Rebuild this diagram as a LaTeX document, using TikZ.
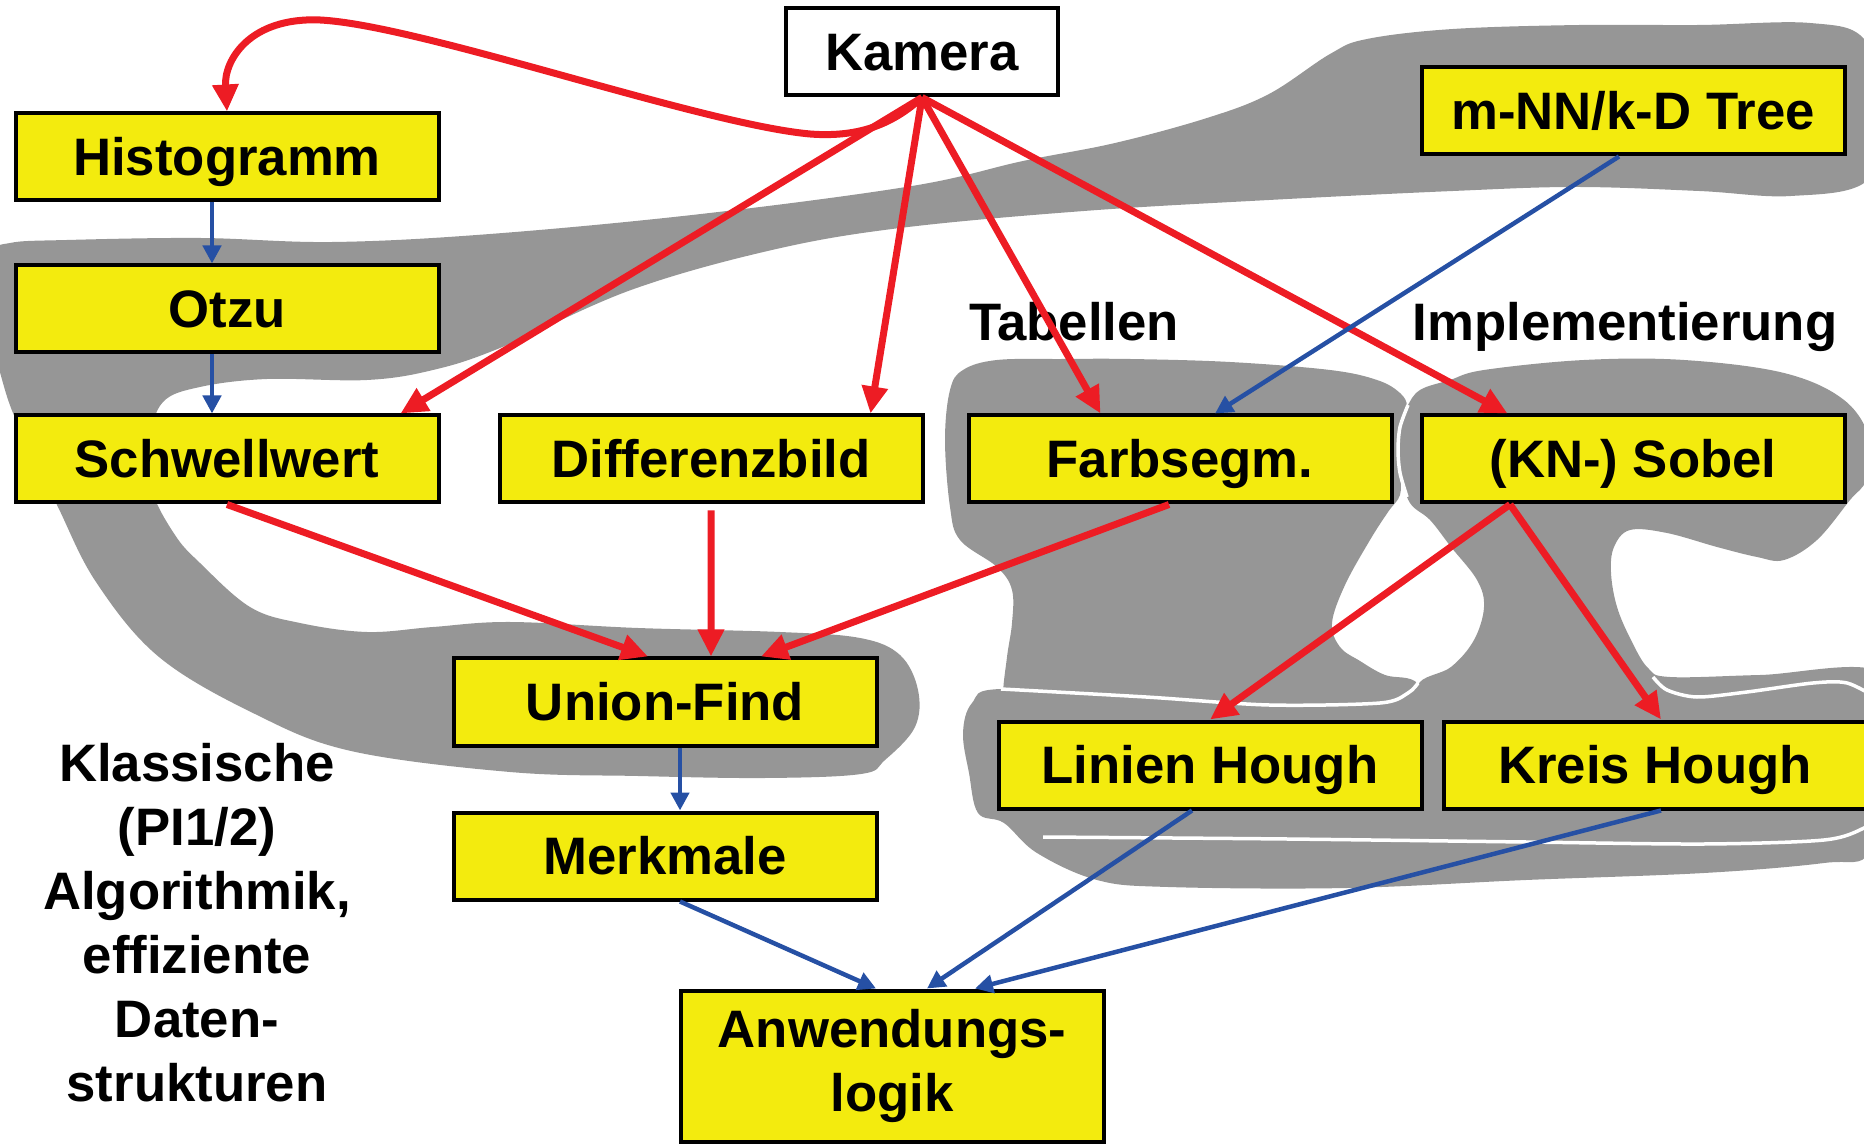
\documentclass[tikz,border=0pt]{standalone}
\usepackage{fontspec}
\setmainfont{Liberation Sans}
\usetikzlibrary{arrows.meta}
\definecolor{boxyellow}{RGB}{243,235,14}
\definecolor{blobgray}{RGB}{150,150,150}
\definecolor{camred}{RGB}{237,28,36}
\definecolor{flowblue}{RGB}{38,80,164}
\begin{document}
\begin{tikzpicture}[x=0.1mm,y=-0.1mm,
  algbox/.style={draw=black,line width=0.4mm,fill=boxyellow,minimum width=42.3mm,
    minimum height=8.7mm,inner sep=0pt,font=\fontsize{15}{18}\selectfont\bfseries},
  oneline/.style={algbox,text height=10.7pt,text depth=0pt},
  grouptext/.style={font=\fontsize{15}{18.2}\selectfont\bfseries,align=center,inner sep=0pt},
  blob/.style={fill=blobgray},
  crease/.style={draw=white,line width=0.35mm},
  redarr/.style={draw=camred,line width=0.7mm,-{Triangle[length=2.7mm,width=2.5mm]}},
  bluearr/.style={draw=flowblue,line width=0.45mm,-{Triangle[length=1.8mm,width=1.8mm]}}]

\clip (0,0) rectangle (1864,1146);

% grey groups
\fill[blob] plot[smooth cycle,tension=0.6] coordinates {(10,243) (67,240) (200,238) (333,242)
  (490,234) (701,214) (912,186) (1023,161) (1115,143) (1207,118) (1269,94) (1330,54) (1367,39)
  (1453,29) (1580,25) (1699,25) (1810,23) (1865,40) (1885,110) (1868,180) (1791,196) (1699,191)
  (1576,187) (1453,191) (1269,200) (1084,211) (900,228) (772,250) (631,290) (500,348) (433,370)
  (367,380) (267,379) (200,387) (163,402) (150,440) (152,490) (175,535) (200,563) (250,607)
  (300,623) (367,632) (433,627) (510,622) (638,628) (780,632) (860,638) (900,655) (918,690)
  (915,727) (885,760) (861,774) (765,778) (638,776) (510,772) (351,751) (255,714) (159,657)
  (96,582) (57,505) (25,440) (5,390) (-10,320) (-5,255)}; % classic algorithms
\fill[blob] plot[smooth cycle,tension=0.6] coordinates {(963,370) (997,360) (1063,359) (1130,359)
  (1230,362) (1330,370) (1377,380) (1400,393) (1407,407) (1400,427) (1398,450) (1400,473)
  (1400,495) (1388,512) (1370,540) (1345,585) (1332,623) (1340,647) (1360,661) (1385,675)
  (1418,684) (1430,730) (1200,760) (1010,740) (1003,700) (1007,657) (1012,623) (1012,590)
  (997,567) (960,540) (950,507) (945,440) (950,390)}; % tables
\fill[blob] plot[smooth cycle,tension=0.6] coordinates {(1407,407) (1420,390) (1450,380)
  (1484,370) (1584,360) (1684,360) (1784,373) (1844,400) (1870,440) (1866,480) (1850,500)
  (1817,540) (1784,560) (1757,557) (1717,547) (1667,533) (1630,530) (1614,547) (1611,573)
  (1617,607) (1631,640) (1648,668) (1670,677) (1760,675) (1880,672) (1890,750) (1600,760)
  (1440,730) (1418,686) (1451,667) (1474,640) (1484,607) (1477,580) (1451,547) (1430,520)
  (1410,503) (1400,473) (1398,450) (1400,427)}; % implementation
\fill[blob] plot[smooth cycle,tension=0.6] coordinates {(1001,689) (1146,697) (1269,705)
  (1380,703) (1408,693) (1418,684) (1470,703) (1590,708) (1640,688) (1653,678) (1667,690)
  (1697,697) (1747,692) (1813,683) (1847,683) (1875,695) (1885,770) (1870,852) (1824,863)
  (1704,873) (1526,880) (1347,888) (1168,887) (1097,880) (1037,853) (1004,823) (978,813)
  (969,773) (963,733) (972,703)};
\draw[crease] plot[smooth] coordinates {(1408,405) (1400,427) (1398,450) (1400,473) (1407,497)};
\draw[crease] plot[smooth] coordinates {(1001,689) (1146,697) (1269,705) (1380,703) (1408,693) (1418,683)};
\draw[crease] plot[smooth] coordinates {(1653,677) (1667,690) (1697,697) (1747,692) (1813,683) (1847,683) (1875,697)};
\draw[crease] plot[smooth] coordinates {(1043,837) (1287,839) (1526,842) (1704,844) (1824,840) (1864,828) (1880,815)};

% boxes
\node[oneline,fill=white,minimum width=27.2mm] (kam) at (922,52) {Kamera};
\foreach \nm/\x/\y/\txt in {hist/227/157/Histogramm, otzu/227/309/Otzu, schw/227/459/Schwellwert,
    diff/711/459/Differenzbild, farb/1180/459/Farbsegm., sobel/1633/459/(KN-) Sobel,
    uf/665/702/Union-Find, merk/665/856/Merkmale, lin/1210/765/Linien Hough,
    kreis/1655/765/Kreis Hough}{ % one box per step
  \node[oneline] (\nm) at (\x,\y) {\txt};
}
\node[oneline] (mnn) at (1633,111) {m-NN/k-D Tree};
\node[algbox,minimum height=15.1mm,align=center] (anw) at (892,1066) {Anwendungs-\\logik};

\node[grouptext,anchor=base] (tab) at (1074,341) {Tabellen};
\node[grouptext,anchor=base] (impl) at (1625,341) {Implementierung};
\node[grouptext] (klass) at (197,923) {Klassische\\(PI1/2)\\Algorithmik,\\effiziente\\Daten-\\strukturen};

% camera image flows
\draw[redarr] (kam.south) .. controls (895,122) and (862,138) .. (810,134)
  .. controls (700,124) and (420,25) .. (320,20) .. controls (250,17) and (224,60) .. (hist.north);
\foreach \tgt/\dx in {schw.north east/-4mm, diff.north east/-5.4mm,
    farb.north west/13.4mm, sobel.north west/8.8mm}{
  \draw[redarr] (kam.south) -- ([xshift=\dx]\tgt);
}
\draw[redarr] (schw.south) -- ([xshift=-1.7mm]uf.north);
\draw[redarr] ([yshift=-0.6mm]diff.south) -- ([xshift=4.6mm]uf.north);
\draw[redarr] ([xshift=-1.1mm]farb.south) -- ([xshift=9.6mm]uf.north);
\draw[redarr] ([xshift=-12.3mm]sobel.south) -- (lin.north);
\draw[redarr] ([xshift=-12.3mm]sobel.south) -- ([xshift=0.6mm]kreis.north);

% data flows
\draw[bluearr] ([xshift=-1.5mm]hist.south) -- ([xshift=-1.5mm]otzu.north);
\draw[bluearr] ([xshift=-1.5mm]otzu.south) -- ([xshift=-1.5mm]schw.north);
\draw[bluearr] ([xshift=-1.4mm]mnn.south) -- ([xshift=3.5mm]farb.north);
\draw[bluearr] ([xshift=1.5mm]uf.south) -- ([xshift=1.5mm]merk.north);
\draw[bluearr] ([xshift=1.5mm]merk.south) -- ([xshift=-1.6mm]anw.north);
\draw[bluearr] ([xshift=-1.8mm]lin.south) -- ([xshift=3.5mm]anw.north);
\draw[bluearr] ([xshift=0.6mm]kreis.south) -- ([xshift=8.3mm]anw.north);
\end{tikzpicture}
\end{document}
